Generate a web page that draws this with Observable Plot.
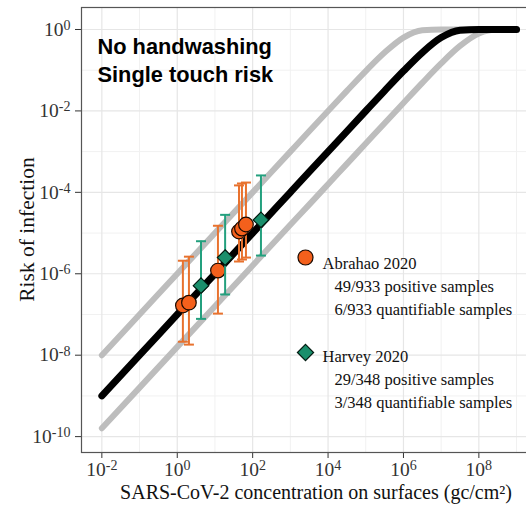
<!DOCTYPE html>
<html><head><meta charset="utf-8">
<script src="https://cdn.jsdelivr.net/npm/d3@7"></script>
<script src="https://cdn.jsdelivr.net/npm/@observablehq/plot@0.6"></script>
<style>
body{margin:0;background:#fff;overflow:hidden}
#wrap{width:526px;height:510px;overflow:hidden;position:relative}
#wrap svg{max-width:none !important;width:540px !important;height:510px !important;display:block}
</style>
</head><body><div id="wrap"></div>
<script>
// Dose-response curves (concentration in gc/cm2, risk)
const concentration = [1e-2, 1e-1, 1, 10, 1e2, 1e3, 3.16e3, 1e4, 3.16e4, 1e5, 3.16e5, 1e6, 3.16e6, 1e7, 3.16e7, 1e8, 3.16e8, 1e9];
const riskBest  = [1e-9, 1e-8, 1e-7, 1e-6, 1e-5, 1e-4, 3.16e-4, 1e-3, 3.16e-3, 9.95e-3, 3.11e-2, 9.52e-2, 0.271, 0.632, 0.958, 1, 1, 1];
const riskUpper = [1e-8, 1e-7, 1e-6, 1e-5, 1e-4, 1e-3, 3.16e-3, 9.95e-3, 3.11e-2, 9.52e-2, 0.271, 0.632, 0.958, 1, 1, 1, 1, 1];
const riskLower = [1.6e-10, 1.6e-9, 1.6e-8, 1.6e-7, 1.6e-6, 1.6e-5, 5.0e-5, 1.58e-4, 5.0e-4, 1.58e-3, 5.0e-3, 1.57e-2, 4.89e-2, 0.147, 0.394, 0.795, 0.993, 1];

// Abrahao 2020 quantifiable samples
const abrahaoConc = [1.41, 2.04, 12.0, 43.4, 52, 66.4];
const abrahaoRisk = [1.66e-7, 1.95e-7, 1.2e-6, 1.09e-5, 1.29e-5, 1.62e-5];
const abrahaoLow  = [2.14e-8, 1.82e-8, 1.05e-7, 2.0e-6, 2.24e-6, 2.5e-6];
const abrahaoHigh = [2.09e-6, 2.63e-6, 1.51e-5, 1.48e-4, 1.65e-4, 1.74e-4];

// Harvey 2020 quantifiable samples
const harveyConc = [4.27, 18.6, 166];
const harveyRisk = [5.1e-7, 2.5e-6, 2.1e-5];
const harveyLow  = [7.8e-8, 3.1e-7, 2.8e-6];
const harveyHigh = [6.3e-6, 2.8e-5, 2.6e-4];

const xMajor = [1e-2, 1, 1e2, 1e4, 1e6, 1e8];
const xMinor = [1e-1, 1e1, 1e3, 1e5, 1e7, 1e9];
const yMajor = [1, 1e-2, 1e-4, 1e-6, 1e-8, 1e-10];
const yMinor = [1e-1, 1e-3, 1e-5, 1e-7, 1e-9];

const legendAbrahao = ["Abrahao 2020", "49/933 positive samples", "6/933 quantifiable samples"];
const legendHarvey = ["Harvey 2020", "29/348 positive samples", "3/348 quantifiable samples"];
const annotation = "No handwashing\nSingle touch risk";
const xTitle = "SARS-CoV-2 concentration on surfaces (gc/cm²)";
const yTitle = "Risk of infection";

const curves = concentration.map((c, i) => ({conc: c, best: riskBest[i], upper: riskUpper[i], lower: riskLower[i]}));
const abrahao = abrahaoConc.map((c, i) => ({conc: c, risk: abrahaoRisk[i], low: abrahaoLow[i], high: abrahaoHigh[i]}));
const harvey = harveyConc.map((c, i) => ({conc: c, risk: harveyRisk[i], low: harveyLow[i], high: harveyHigh[i]}));

const orangeFill = "#F4601C", orangeBar = "#E8722E";
const greenFill = "#1A8F6C", greenBar = "#23A07E";
const serif = "'Liberation Serif', 'Times New Roman', serif";
const sans = "'Liberation Sans', Arial, Helvetica, sans-serif";

const cap = {draw(ctx, size) { const w = Math.sqrt(size / Math.PI); ctx.moveTo(-w, 0); ctx.lineTo(w, 0); }};
const expFmt = d => "10^" + Math.round(Math.log10(d));

const chart = Plot.plot({
  width: 540, height: 510,
  marginLeft: 81, marginRight: 0, marginTop: 7, marginBottom: 58,
  style: {fontFamily: serif, fontSize: "19.5px", color: "#333", background: "#fff"},
  x: {type: "log", domain: [Math.pow(10, -2.54), Math.pow(10, 9.635)], ticks: xMajor, tickFormat: expFmt, tickSize: 6, tickPadding: 4, label: null},
  y: {type: "log", domain: [Math.pow(10, -10.39), Math.pow(10, 0.54)], ticks: yMajor, tickFormat: expFmt, tickSize: 6, tickPadding: 5, label: null},
  marks: [
    Plot.ruleX(xMinor, {stroke: "#f1f1f1", strokeWidth: 1}),
    Plot.ruleY(yMinor, {stroke: "#f1f1f1", strokeWidth: 1}),
    Plot.ruleX(xMajor, {stroke: "#e6e6e6", strokeWidth: 1.2}),
    Plot.ruleY(yMajor, {stroke: "#e6e6e6", strokeWidth: 1.2}),
    Plot.frame({stroke: "#555", strokeWidth: 1.2}),
    Plot.line(curves, {x: "conc", y: "upper", stroke: "#bdbdbd", strokeWidth: 6, curve: "monotone-x"}),
    Plot.line(curves, {x: "conc", y: "lower", stroke: "#bdbdbd", strokeWidth: 6, curve: "monotone-x"}),
    Plot.line(curves, {x: "conc", y: "best", stroke: "#000", strokeWidth: 7, curve: "monotone-x"}),
    Plot.ruleX(abrahao, {x: "conc", y1: "low", y2: "high", stroke: orangeBar, strokeWidth: 2}),
    Plot.dot(abrahao, {x: "conc", y: "low", symbol: cap, r: 5, stroke: orangeBar, strokeWidth: 2, fill: "none"}),
    Plot.dot(abrahao, {x: "conc", y: "high", symbol: cap, r: 5, stroke: orangeBar, strokeWidth: 2, fill: "none"}),
    Plot.dot(abrahao, {x: "conc", y: "risk", r: 7.3, fill: orangeFill, stroke: "#1a0a00", strokeWidth: 1.2}),
    Plot.ruleX(harvey, {x: "conc", y1: "low", y2: "high", stroke: greenBar, strokeWidth: 2}),
    Plot.dot(harvey, {x: "conc", y: "low", symbol: cap, r: 5, stroke: greenBar, strokeWidth: 2, fill: "none"}),
    Plot.dot(harvey, {x: "conc", y: "high", symbol: cap, r: 5, stroke: greenBar, strokeWidth: 2, fill: "none"}),
    Plot.dot(harvey, {x: "conc", y: "risk", r: 7, symbol: "diamond2", fill: greenFill, stroke: "#001a10", strokeWidth: 1.2}),
    // annotation
    Plot.text([annotation], {frameAnchor: "top-left", dx: 16, dy: 26, textAnchor: "start", lineAnchor: "top", lineHeight: 1.3, fontFamily: sans, fontWeight: "bold", fontSize: 21.8, fill: "#000"}),
    // legend
    Plot.dot([0], {frameAnchor: "top-left", dx: 224, dy: 250, r: 7.5, fill: orangeFill, stroke: "#1a0a00", strokeWidth: 1.2}),
    Plot.dot([0], {frameAnchor: "top-left", dx: 224, dy: 345, r: 7.3, symbol: "diamond2", fill: greenFill, stroke: "#001a10", strokeWidth: 1.2}),
    Plot.text([legendAbrahao[0]], {frameAnchor: "top-left", dx: 241, dy: 250, textAnchor: "start", fontSize: 16.5, fill: "#111"}),
    Plot.text([legendAbrahao[1]], {frameAnchor: "top-left", dx: 253, dy: 273, textAnchor: "start", fontSize: 16.5, fill: "#111"}),
    Plot.text([legendAbrahao[2]], {frameAnchor: "top-left", dx: 253, dy: 296, textAnchor: "start", fontSize: 16.5, fill: "#111"}),
    Plot.text([legendHarvey[0]], {frameAnchor: "top-left", dx: 241, dy: 343, textAnchor: "start", fontSize: 16.5, fill: "#111"}),
    Plot.text([legendHarvey[1]], {frameAnchor: "top-left", dx: 253, dy: 366, textAnchor: "start", fontSize: 16.5, fill: "#111"}),
    Plot.text([legendHarvey[2]], {frameAnchor: "top-left", dx: 253, dy: 389, textAnchor: "start", fontSize: 16.5, fill: "#111"}),
    // x axis title
    Plot.text([xTitle], {frameAnchor: "bottom", dx: 5, dy: 46, fontSize: 20, fill: "#111"})
  ]
});

// render exponent tick labels as superscripts
chart.querySelectorAll("text").forEach(t => {
  const m = /^10\^(-?\d+)$/.exec(t.textContent);
  if (m) {
    t.textContent = "10";
    const ts = document.createElementNS("http://www.w3.org/2000/svg", "tspan");
    ts.setAttribute("dy", "-0.42em");
    ts.setAttribute("font-size", "72%");
    ts.textContent = m[1];
    t.appendChild(ts);
  }
});
// y axis title, centred on the panel
d3.select(chart).append("text")
  .attr("transform", "translate(26,229.5) rotate(-90)")
  .attr("text-anchor", "middle")
  .attr("dy", "0.35em")
  .attr("font-family", serif)
  .attr("font-size", 21.5)
  .attr("fill", "#111")
  .text(yTitle);
chart.style.maxWidth = "none";
document.getElementById("wrap").appendChild(chart);
</script>
</body></html>
